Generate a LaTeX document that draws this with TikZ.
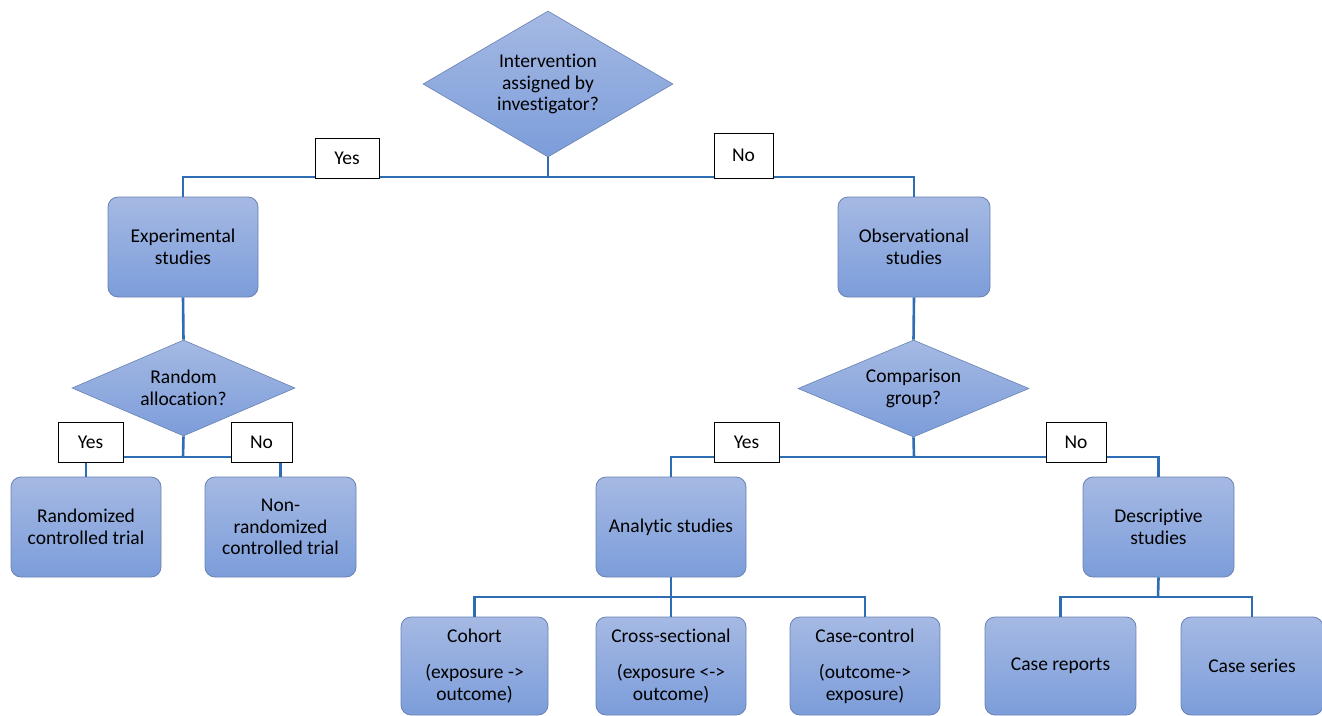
\documentclass[tikz,border=0pt]{standalone}
\usepackage{fontspec}
\setmainfont[Ligatures=NoCommon]{Carlito}
\usetikzlibrary{shapes.geometric}
\definecolor{ftop}{HTML}{A5B9E3}
\definecolor{fbot}{HTML}{7C9DDA}
\definecolor{bord}{HTML}{6981B3}
\definecolor{lnk}{HTML}{2E6DB4}
\tikzset{
  box/.style={draw=bord, line width=0.8pt, rounded corners=10pt, top color=ftop, bottom color=fbot,
     minimum width=150pt, minimum height=100pt, align=center, font=\fontsize{19.5}{21.5}\selectfont, inner sep=0pt},
  dia/.style={diamond, draw=bord, line width=0.6pt, top color=ftop, bottom color=fbot, inner sep=0pt,
     align=center, font=\fontsize{19.5}{21.5}\selectfont},
  lab/.style={draw=black, fill=white, line width=0.8pt, minimum height=40pt, inner sep=0pt,
     font=\fontsize{19.5}{21.5}\selectfont},
  link/.style={draw=lnk, line width=2.6pt}
}
\begin{document}
\begin{tikzpicture}[x=1pt,y=-1pt]
\useasboundingbox (0,0) rectangle (1322,715);
% nodes
\node[dia, minimum width=250pt, minimum height=146pt, aspect=1.7] (d1) at (548,84) {Intervention\\assigned by\\investigator?};
\node[box] (exp) at (183,247) {Experimental\\studies};
\node[box, minimum width=152pt] (obs) at (914,247) {Observational\\studies};
\node[dia, minimum width=223pt, minimum height=96pt, aspect=2.3] (d2) at (183.5,388) {Random\\allocation?};
\node[dia, minimum width=231pt, minimum height=97pt, aspect=2.3] (d3) at (913.5,388.5) {Comparison\\group?};
\node[box] (rct) at (86,527) {Randomized\\controlled trial};
\node[box, minimum width=151pt] (nrct) at (280.5,527) {Non-\\randomized\\controlled trial};
\node[box] (ana) at (671,527) {Analytic studies};
\node[box, minimum width=151pt] (des) at (1158.5,527) {Descriptive\\studies};
\node[box, minimum width=147pt, minimum height=98pt] (coh) at (474.5,666) {Cohort\\[15pt](exposure ->\\outcome)};
\node[box, minimum height=98pt] (crs) at (671,666) {Cross-sectional\\[15pt](exposure <->\\outcome)};
\node[box, minimum height=98pt] (cc) at (865,666) {Case-control\\[15pt](outcome->\\exposure)};
\node[box, minimum width=151pt, minimum height=98pt] (cr) at (1060.5,666) {Case reports};
\node[box, minimum width=142pt, minimum height=98pt] (cs) at (1252,666) {Case series};
% connectors
\coordinate (j1) at (548,177);
\coordinate (j2) at (183,457);
\coordinate (j3) at (914,457);
\coordinate (j4) at (671,597);
\coordinate (j5) at (1158,597);
\draw[link] (d1.south) -- (j1);
\draw[link] (j1) -| (exp.north);
\draw[link] (j1) -| (obs.north);
\draw[link] (exp.south) -- (d2.north);
\draw[link] (obs.south) -- (d3.north);
\draw[link] (d2.south) -- (j2);
\draw[link] (j2) -| (rct.north);
\draw[link] (j2) -| (nrct.north);
\draw[link] (d3.south) -- (j3);
\draw[link] (j3) -| (ana.north);
\draw[link] (j3) -| (des.north);
\draw[link] (ana.south) -- (j4);
\draw[link] (j4) -| (coh.north);
\draw[link] (j4) -- (crs.north);
\draw[link] (j4) -| (cc.north);
\draw[link] (des.south) -- (j5);
\draw[link] (j5) -| (cr.north);
\draw[link] (j5) -| (cs.north);
% labels
\node[lab, minimum width=64pt] (y1) at (347,158) {Yes};
\node[lab, minimum width=59pt, minimum height=45pt] (n1) at (743.5,155.5) {No};
\node[lab, minimum width=65pt] (y2) at (90.5,442.5) {Yes};
\node[lab, minimum width=61pt] (n2) at (261.5,442.5) {No};
\node[lab, minimum width=65pt] (y3) at (746.5,442) {Yes};
\node[lab, minimum width=60pt] (n3) at (1076,442) {No};
\end{tikzpicture}
\end{document}
